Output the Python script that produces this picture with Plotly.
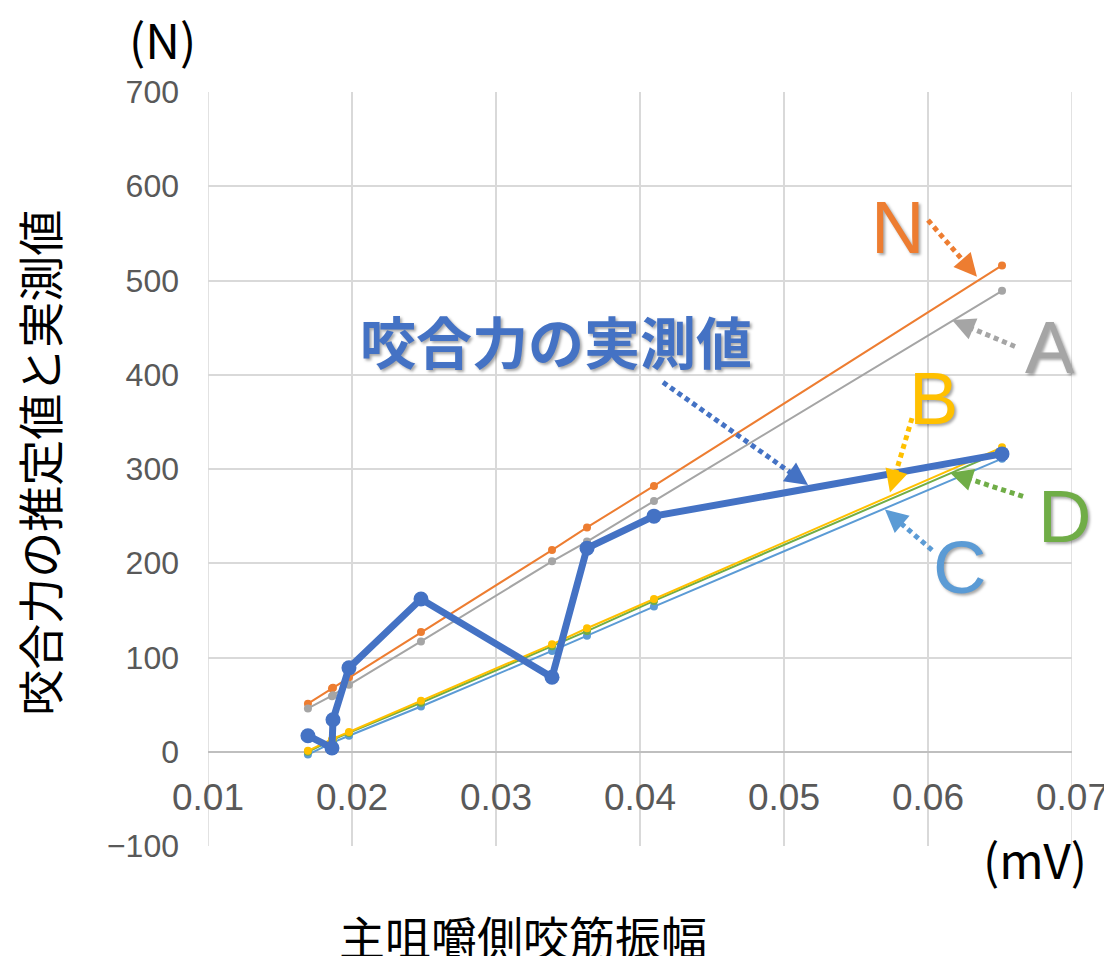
import plotly.graph_objects as go

# ---------------- data ----------------
amp_mv = [0.01694, 0.01861, 0.01868, 0.01979, 0.02479, 0.03389, 0.03632, 0.04097, 0.06514]
measured = [17, 4, 34, 89, 162, 79, 216, 250, 316]
est_N = [51, 67, 68, 79, 127, 214, 238, 282, 516]
est_A = [46, 59, 60, 71, 117, 202, 223, 266, 489]
est_B = [1, 13, 14, 21, 54, 114, 131, 162, 323]
est_D = [0, 12, 13, 20, 52, 112, 128, 160, 319]
est_C = [-3, 9, 10, 17, 48, 107, 123, 154, 311]

x_ticks = [0.01, 0.02, 0.03, 0.04, 0.05, 0.06, 0.07]
x_tick_labels = ["0.01", "0.02", "0.03", "0.04", "0.05", "0.06", "0.07"]
y_ticks = [-100, 0, 100, 200, 300, 400, 500, 600, 700]
y_tick_labels = ["\u2212100", "0", "100", "200", "300", "400", "500", "600", "700"]

# label annotations: (text, x, y, colour)
labels = [
    ("N", 0.05785, 556, "#ED7D31"),
    ("A", 0.06847, 429, "#A5A5A5"),
    ("B", 0.06035, 375, "#FFC000"),
    ("D", 0.06951, 250, "#70AD47"),
    ("C", 0.06222, 195, "#5B9BD5"),
]
# dotted arrows: (x0, y0, x1(tip), y1(tip), colour)
arrows = [
    (0.06000, 564, 0.06340, 504, "#ED7D31"),
    (0.06604, 430, 0.06167, 458, "#A5A5A5"),
    (0.05889, 354, 0.05736, 275, "#FFC000"),
    (0.06660, 271, 0.06153, 296, "#70AD47"),
    (0.06028, 214, 0.05701, 257, "#5B9BD5"),
    (0.04160, 392, 0.05167, 283, "#4472C4"),
]

# ---------------- figure ----------------
fig = go.Figure()

series = [
    (est_N, "#ED7D31"),
    (est_A, "#A5A5A5"),
    (est_C, "#5B9BD5"),
    (est_D, "#70AD47"),
    (est_B, "#FFC000"),
]
for vals, col in series:
    fig.add_trace(go.Scatter(
        x=amp_mv, y=vals, mode="lines+markers",
        line=dict(color=col, width=2),
        marker=dict(color=col, size=8),
        showlegend=False, hoverinfo="skip",
    ))

fig.add_trace(go.Scatter(
    x=amp_mv, y=measured, mode="lines+markers",
    line=dict(color="#4472C4", width=7),
    marker=dict(color="#4472C4", size=15),
    showlegend=False, hoverinfo="skip",
))

# page body has an 8px default margin; size the figure so it fills the window
W, H = 1104, 948
L, T = 200, 84
pw, ph = 864, 754
R, B = W - L - pw, H - T - ph
xr = (0.01, 0.07)
yr = (-100, 700)


def to_px(x, y):
    px = L + (x - xr[0]) / (xr[1] - xr[0]) * pw
    py = T + (yr[1] - y) / (yr[1] - yr[0]) * ph
    return px, py


grid_col = "#d9d9d9"
shapes = [
    dict(type="line", xref="x", yref="paper", x0=xr[0], x1=xr[0], y0=0, y1=1,
         line=dict(color=grid_col, width=1.5), layer="below"),
    dict(type="line", xref="x", yref="paper", x0=xr[1], x1=xr[1], y0=0, y1=1,
         line=dict(color=grid_col, width=1.5), layer="below"),
]
annotations = []
for x0, y0, x1, y1, col in arrows:
    p0 = to_px(x0, y0)
    p1 = to_px(x1, y1)
    dx, dy = p1[0] - p0[0], p1[1] - p0[1]
    ln = (dx * dx + dy * dy) ** 0.5
    ux, uy = dx / ln, dy / ln
    head = 12
    sx = x0 + (x1 - x0) * (ln - head) / ln
    sy = y0 + (y1 - y0) * (ln - head) / ln
    shapes.append(dict(type="line", xref="x", yref="y", x0=x0, y0=y0, x1=sx, y1=sy,
                       line=dict(color=col, width=5, dash="5px,4px")))
    annotations.append(dict(x=x1, y=y1, xref="x", yref="y", text="", showarrow=True,
                            ax=-ux * 16, ay=-uy * 16, arrowhead=2, arrowsize=1.3,
                            arrowwidth=3.5, arrowcolor=col, standoff=0))

shadow = "2px 2px 3px rgba(0,0,0,0.35)"
for txt, x, y, col in labels:
    annotations.append(dict(x=x, y=y, xref="x", yref="y", text=txt, showarrow=False,
                            xanchor="center", yanchor="middle",
                            font=dict(family="Liberation Sans, Arial, sans-serif", size=74,
                                      color=col, shadow=shadow)))

annotations.append(dict(x=0.03417, y=437, xref="x", yref="y", text="<b>咬合力の実測値</b>",
                        showarrow=False, xanchor="center", yanchor="middle",
                        font=dict(family="Noto Sans CJK JP", size=56, color="#4472C4",
                                  shadow=shadow)))

cjk = "Noto Sans CJK JP"
annotations += [
    dict(x=-0.0532, y=1.072, xref="paper", yref="paper", text="(N)", showarrow=False,
         xanchor="center", yanchor="middle", font=dict(family=cjk, size=48, color="black")),
    dict(x=0.957, y=-0.016, xref="paper", yref="paper", text="(mV)", showarrow=False,
         xanchor="center", yanchor="middle", font=dict(family=cjk, size=48, color="black")),
    dict(x=-0.197, y=0.508, xref="paper", yref="paper", text="咬合力の推定値と実測値",
         showarrow=False, textangle=-90, xanchor="center", yanchor="middle",
         font=dict(family=cjk, size=46, color="black")),
    dict(x=0.365, y=-0.118, xref="paper", yref="paper", text="主咀嚼側咬筋振幅",
         showarrow=False, xanchor="center", yanchor="middle",
         font=dict(family=cjk, size=46, color="black")),
]

fig.update_layout(
    width=W, height=H,
    margin=dict(l=L, r=R, t=T, b=B, autoexpand=False),
    paper_bgcolor="white", plot_bgcolor="white",
    showlegend=False,
    shapes=shapes,
    annotations=annotations,
    xaxis=dict(
        range=list(xr), tickvals=x_ticks, ticktext=x_tick_labels,
        anchor="free", position=(0 - yr[0]) / (yr[1] - yr[0]),
        showgrid=True, gridcolor=grid_col, gridwidth=1.5,
        showline=False, zeroline=False, ticks="",
        ticklabelstandoff=20, ticklabeloverflow="allow",
        tickfont=dict(family="Liberation Sans, Arial, sans-serif",
                      size=37, color="#595959"),
    ),
    yaxis=dict(
        range=list(yr), tickvals=y_ticks, ticktext=y_tick_labels,
        showgrid=True, gridcolor=grid_col, gridwidth=1.5,
        zeroline=True, zerolinecolor="#bfbfbf", zerolinewidth=1.5,
        showline=False, ticks="",
        ticklabelstandoff=28, ticklabeloverflow="allow",
        tickfont=dict(family="Liberation Sans, Arial, sans-serif", size=32, color="#595959"),
    ),
)

fig.write_html("out.html")
